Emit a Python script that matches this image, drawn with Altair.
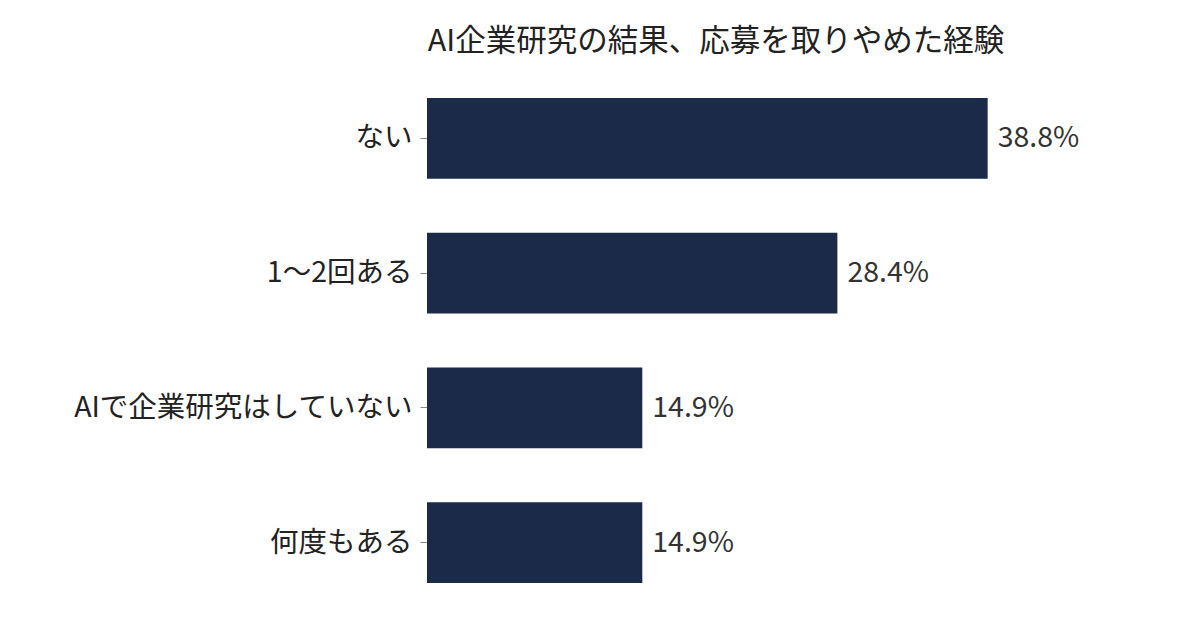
import altair as alt
import pandas as pd

categories = ["ない", "1〜2回ある", "AIで企業研究はしていない", "何度もある"]
values = [38.8, 28.4, 14.9, 14.9]
labels = ["38.8%", "28.4%", "14.9%", "14.9%"]

df = pd.DataFrame({"cat": categories, "val": values, "label": labels})

FONT = "Noto Sans CJK JP"

base = alt.Chart(df).encode(
    y=alt.Y("cat:N", sort=categories, title=None,
            scale=alt.Scale(paddingInner=0.4, paddingOuter=0.2),
            axis=alt.Axis(domain=False, ticks=True, tickSize=7, tickColor="#888888",
                          labelFont=FONT, labelFontSize=28.5, labelColor="#222222",
                          labelPadding=8, labelLimit=400)),
    x=alt.X("val:Q", title=None, scale=alt.Scale(domain=[0, 40]),
            axis=None),
)

bars = base.mark_bar(color="#1c2a4a")
text = base.mark_text(align="left", dx=10, font=FONT, fontSize=28.5, color="#333333").encode(
    text="label:N")

chart = (bars + text).properties(
    width=578, height=539,
    title=alt.TitleParams("AI企業研究の結果、応募を取りやめた経験", font=FONT, fontSize=30.5,
                          fontWeight="normal", color="#222222", anchor="middle", offset=14),
    autosize=alt.AutoSizeParams(type="none"),
    padding={"left": 419, "top": 63, "right": 180, "bottom": 10},
).configure(background="white").configure_view(stroke=None)

chart.save("out.html", embed_options={"renderer": "svg", "actions": False})
